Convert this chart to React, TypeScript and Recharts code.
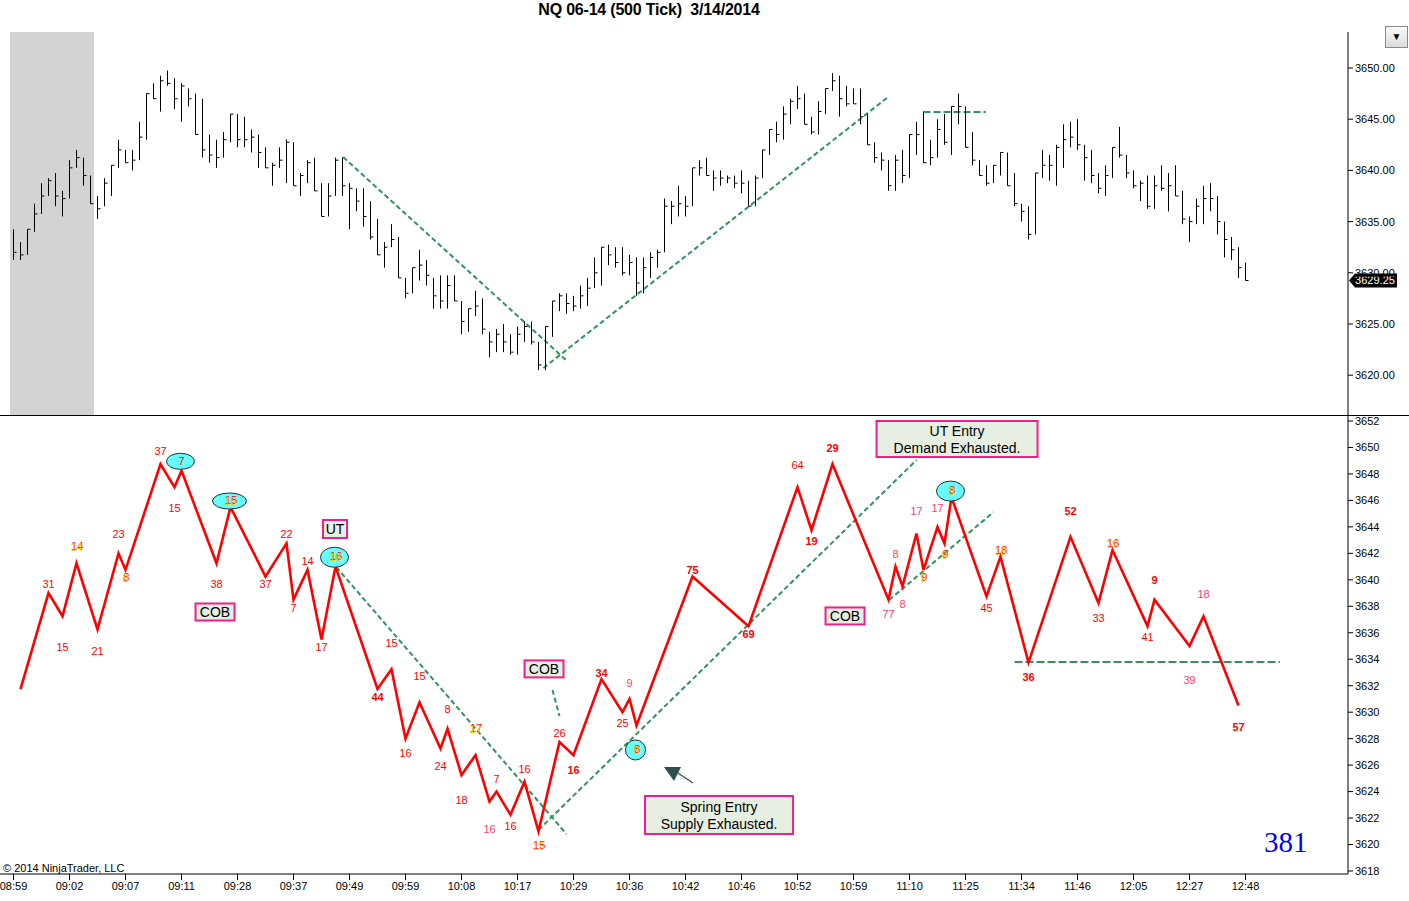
import React from "react";
import {
  ComposedChart,
  Scatter,
  ErrorBar,
  Line,
  XAxis,
  YAxis,
  ReferenceLine,
  ReferenceArea,
  ReferenceDot,
} from "recharts";

// ---------- data ----------
const highs = [
  3634.25, 3633.0, 3634.25, 3636.75, 3638.75, 3639.25, 3639.75, 3638.0, 3641.0, 3642.0,
  3641.25, 3639.5, 3637.5, 3639.25, 3640.5, 3643.0, 3642.0, 3642.0, 3644.75, 3647.5,
  3648.5, 3649.25, 3649.75, 3649.0, 3648.5, 3648.0, 3647.5, 3647.0, 3643.5, 3643.0,
  3643.75, 3645.5, 3645.5, 3645.25, 3644.0, 3643.5, 3642.25, 3640.75, 3642.25, 3643.0,
  3642.75, 3639.75, 3641.0, 3641.25, 3638.75, 3638.75, 3641.25, 3641.25, 3638.75, 3638.25,
  3638.25, 3637.0, 3635.25, 3633.0, 3634.75, 3633.5, 3629.5, 3630.5, 3632.25, 3631.25,
  3629.5, 3629.75, 3629.75, 3629.75, 3627.25, 3626.5, 3628.25, 3627.5, 3624.25, 3624.5,
  3625.0, 3624.0, 3624.75, 3625.25, 3625.25, 3623.25, 3624.75, 3627.25, 3628.0, 3628.0,
  3627.75, 3628.75, 3629.5, 3631.5, 3632.5, 3632.75, 3632.5, 3632.5, 3631.75, 3631.5,
  3631.5, 3632.0, 3632.25, 3637.25, 3637.0, 3638.5, 3637.5, 3640.25, 3641.0, 3641.25,
  3640.0, 3640.0, 3639.5, 3639.5, 3640.0, 3639.0, 3639.5, 3642.0, 3644.0, 3644.75,
  3646.25, 3647.0, 3648.25, 3647.5, 3645.25, 3646.75, 3648.0, 3649.5, 3649.25, 3648.25,
  3648.0, 3648.0, 3645.5, 3642.75, 3641.75, 3641.0, 3641.5, 3642.0, 3643.5, 3644.75,
  3645.75, 3643.0, 3645.0, 3645.5, 3646.25, 3647.5, 3646.25, 3643.75, 3641.0, 3640.5,
  3640.5, 3641.75, 3641.75, 3639.75, 3636.75, 3636.5, 3639.75, 3642.0, 3641.5, 3642.5,
  3644.5, 3644.75, 3645.0, 3642.5, 3642.0, 3639.75, 3640.5, 3642.25, 3644.25, 3641.5,
  3640.0, 3639.0, 3639.5, 3639.5, 3640.5, 3639.75, 3640.5, 3638.0, 3635.5, 3637.25,
  3638.5, 3638.75, 3637.5, 3635.0, 3633.5, 3632.5, 3631.0,
];
const lows = [
  3631.25, 3631.25, 3631.75, 3634.0, 3635.75, 3637.5, 3636.5, 3635.5, 3637.25, 3640.25,
  3638.5, 3636.75, 3635.25, 3636.5, 3637.5, 3640.25, 3640.75, 3640.0, 3641.0, 3643.0,
  3647.0, 3645.75, 3648.25, 3646.0, 3644.75, 3646.25, 3643.5, 3641.25, 3640.75, 3640.25,
  3641.25, 3642.75, 3642.25, 3642.25, 3641.75, 3640.25, 3640.25, 3638.5, 3640.25, 3638.75,
  3638.5, 3637.5, 3638.75, 3638.0, 3635.5, 3635.5, 3637.5, 3637.5, 3634.25, 3636.0,
  3634.5, 3633.25, 3631.75, 3630.5, 3632.5, 3629.5, 3627.5, 3628.0, 3629.25, 3628.75,
  3626.5, 3626.5, 3626.5, 3627.25, 3624.0, 3624.25, 3625.75, 3624.0, 3621.75, 3622.25,
  3622.25, 3622.0, 3622.0, 3623.25, 3623.0, 3620.5, 3620.5, 3623.75, 3626.25, 3626.0,
  3626.25, 3626.5, 3626.75, 3628.5, 3628.75, 3630.75, 3630.5, 3629.75, 3629.75, 3627.75,
  3628.0, 3629.5, 3630.5, 3632.0, 3634.75, 3635.5, 3635.5, 3636.5, 3639.5, 3639.5,
  3638.0, 3638.5, 3638.75, 3638.25, 3637.75, 3636.5, 3636.5, 3639.25, 3641.5, 3642.75,
  3643.0, 3644.5, 3646.0, 3644.5, 3643.5, 3643.5, 3645.5, 3647.75, 3645.25, 3646.25,
  3646.5, 3644.5, 3642.5, 3640.75, 3640.0, 3638.0, 3638.0, 3638.75, 3639.25, 3641.5,
  3640.75, 3640.5, 3641.25, 3642.5, 3641.5, 3644.5, 3642.25, 3640.5, 3639.5, 3638.5,
  3638.75, 3639.5, 3638.5, 3636.5, 3635.0, 3633.25, 3633.75, 3639.25, 3639.0, 3638.5,
  3640.25, 3642.25, 3642.0, 3639.0, 3638.75, 3637.75, 3637.5, 3639.25, 3641.25, 3639.25,
  3638.25, 3637.0, 3636.25, 3636.25, 3638.0, 3636.0, 3637.5, 3634.75, 3633.0, 3634.75,
  3634.75, 3636.0, 3633.75, 3631.5, 3631.25, 3629.5, 3629.25,
];
const closes = [
  3632.0, 3631.75, 3634.25, 3635.75, 3637.5, 3639.0, 3637.5, 3637.25, 3640.25, 3641.25,
  3639.5, 3636.75, 3636.25, 3638.75, 3640.5, 3642.0, 3640.75, 3641.0, 3643.25, 3647.5,
  3647.0, 3648.75, 3648.5, 3647.0, 3648.25, 3647.0, 3643.5, 3642.0, 3641.5, 3641.25,
  3643.0, 3645.5, 3643.0, 3643.0, 3643.25, 3641.75, 3640.25, 3640.5, 3641.0, 3642.75,
  3638.5, 3639.5, 3640.75, 3638.0, 3635.5, 3637.5, 3641.0, 3638.5, 3638.25, 3637.0,
  3635.5, 3633.5, 3631.75, 3632.5, 3633.25, 3629.5, 3628.0, 3630.5, 3630.75, 3629.75,
  3627.75, 3627.25, 3628.75, 3627.25, 3625.25, 3626.5, 3626.75, 3624.5, 3623.25, 3624.0,
  3623.25, 3622.25, 3624.0, 3624.75, 3623.25, 3621.0, 3624.75, 3627.25, 3627.75, 3627.0,
  3626.75, 3627.75, 3628.5, 3630.0, 3632.5, 3631.75, 3631.0, 3630.0, 3631.0, 3629.0,
  3630.5, 3631.5, 3632.0, 3636.5, 3636.5, 3636.75, 3636.5, 3640.25, 3640.25, 3639.5,
  3639.25, 3639.25, 3639.25, 3638.75, 3638.75, 3636.5, 3639.25, 3642.0, 3644.0, 3643.5,
  3645.5, 3646.75, 3647.0, 3644.5, 3643.75, 3645.75, 3648.0, 3648.75, 3647.0, 3646.5,
  3646.5, 3645.25, 3642.5, 3641.25, 3641.0, 3638.5, 3641.0, 3639.5, 3643.5, 3643.5,
  3640.75, 3641.25, 3644.0, 3642.75, 3646.25, 3646.25, 3642.25, 3641.0, 3639.5, 3638.75,
  3640.5, 3641.75, 3638.5, 3636.75, 3636.0, 3633.75, 3639.75, 3640.5, 3640.5, 3642.25,
  3643.0, 3643.25, 3642.5, 3641.25, 3639.5, 3638.25, 3639.5, 3642.25, 3641.5, 3639.75,
  3638.5, 3638.75, 3636.5, 3638.5, 3638.25, 3638.5, 3637.5, 3635.25, 3635.0, 3636.5,
  3637.25, 3637.25, 3635.0, 3633.25, 3632.25, 3630.5, 3629.25,
];
const timeLabels = [
  "08:59", "09:02", "09:07", "09:11", "09:28", "09:37", "09:49", "09:59", "10:08", "10:17",
  "10:29", "10:36", "10:42", "10:46", "10:52", "10:59", "11:10", "11:25", "11:34", "11:46",
  "12:05", "12:27", "12:48",
];
const pivotBars = [
  1, 5, 7, 9, 12, 15, 16, 21, 23, 24, 29, 31, 36, 39, 40, 42, 44, 46, 52, 54, 56, 58, 61, 62,
  64, 66, 68, 69, 71, 73, 75, 78, 80, 84, 87, 88, 89, 97, 105, 112, 114, 117, 125, 126, 127,
  129, 130, 132, 133, 134, 139, 141, 145, 151, 155, 157, 162, 163, 168, 170, 175,
];
const waveVolumes = [
  31, 15, 14, 21, 23, 8, 37, 15, 7, 38, 15, 37, 22, 7, 14, 17, 16, 44, 15, 16,
  15, 24, 8, 18, 17, 16, 7, 16, 16, 15, 26, 16, 34, 25, 9, 8, 75, 69, 64, 19,
  29, 77, 8, 8, 17, 9, 17, 9, 8, 45, 18, 36, 52, 33, 16, 41, 9, 39, 18, 57,
];
// N normal red, B bold red, Y yellow over red, P pink
const labelStyles = "NNYNNYNNNNYNNNNNYBNNNNNNYPNNNYNBBNPYBBNBBPPPPYPYYNYBBNYNBPPB";
const topPriceTicks = [3620, 3625, 3630, 3635, 3640, 3645, 3650];
const bottomPriceTicks = [
  3618, 3620, 3622, 3624, 3626, 3628, 3630, 3632, 3634, 3636, 3638, 3640, 3642, 3644, 3646,
  3648, 3650, 3652,
];
const lastPrice = 3629.25;
const sessionShade = [-0.5, 11.5];
const topTrendLines = [
  [[47.1, 3641.3], [78.9, 3621.5]],
  [[75.7, 3620.7], [125.0, 3647.2]],
  [[130.0, 3645.7], [138.9, 3645.7]],
];
const bottomTrendLines = [
  [[46.1, 3640.97], [79.0, 3620.79]],
  [[75.0, 3621.1], [129.0, 3649.05]],
  [[125.1, 3638.48], [140.0, 3645.12]],
  [[143.0, 3633.79], [180.9, 3633.79]],
  [[77.0, 3631.68], [78.0, 3629.71]],
];
const notes = [
  { lines: ["UT"], i: 45.93, p: 3643.84 },
  { lines: ["COB"], i: 28.79, p: 3637.57 },
  { lines: ["COB"], i: 75.79, p: 3633.27 },
  { lines: ["COB"], i: 118.79, p: 3637.27 },
  { lines: ["UT Entry", "Demand Exhausted."], i: 134.79, p: 3650.64 },
  { lines: ["Spring Entry", "Supply Exhausted."], i: 100.79, p: 3622.23 },
];
const arrowAt = { i: 94.21, p: 3625.4 };

// ---------- layout / styles ----------
const W = 1409;
const PLOT_W = 1348;
const X0 = 13.5;
const STEP = 7;
const xDomain: [number, number] = [-X0 / STEP, (PLOT_W - X0) / STEP];
const topDomain: [number, number] = [3616.113, 3653.516];
const bottomDomain: [number, number] = [3617.773, 3652.378];
const FONT = "'Liberation Sans', Arial, sans-serif";
const GREEN = "#33935e";

const noteSizes: Record<string, [number, number]> = {
  UT: [24, 18],
  COB: [39, 17],
  "UT Entry": [161, 36],
  "Spring Entry": [148, 38],
};
const ovals: Record<number, [number, number]> = {
  9: [14, 8],
  11: [17, 8],
  17: [14, 10],
  36: [10, 10],
  49: [14, 10],
};
const labelLook: Record<string, any> = {
  N: { fill: "#ff0000" },
  B: { fill: "#ff0000", fontWeight: "bold" },
  P: { fill: "#ff3d6e" },
};

const bars = closes.map((c, i) => ({ i, c, err: [c - lows[i], highs[i] - c] }));
const zigzag = pivotBars.map((b) => ({ i: b, zz: closes[b] }));
const waveLabels = pivotBars.slice(1).map((b, k) => {
  const hi = k % 2 === 0;
  return { i: b, y: hi ? highs[b] : lows[b], v: waveVolumes[k], hi, sty: labelStyles[k], n: k + 1 };
});
const xTicks = timeLabels.map((_, k) => k * 8);

const CloseTick = (p: any) => {
  const { cx, cy } = p;
  if (cx == null || cy == null) return null;
  return <line x1={cx} x2={cx + 3} y1={cy} y2={cy} stroke="#000" strokeWidth={1} />;
};

const WaveLabel = (p: any) => {
  const { cx, cy, payload } = p;
  if (cx == null || cy == null || !payload) return null;
  const ty = payload.hi ? cy - 6 : cy + 8;
  const ov = ovals[payload.n];
  const common = { textAnchor: "middle" as const, fontSize: 11, fontFamily: FONT, dy: "0.36em" };
  return (
    <g>
      {ov && (
        <ellipse cx={cx - 1} cy={ty} rx={ov[0]} ry={ov[1]} fill="#66ffff" stroke="#203030" strokeWidth={1} />
      )}
      {payload.sty === "Y" ? (
        <>
          <text x={cx + 0.7} y={ty - 1} fill="#ff0000" {...common}>
            {payload.v}
          </text>
          <text x={cx} y={ty} fill="#ffc800" {...common}>
            {payload.v}
          </text>
        </>
      ) : (
        <text x={cx} y={ty} {...common} {...labelLook[payload.sty]}>
          {payload.v}
        </text>
      )}
    </g>
  );
};

const NoteBox = ({ cx, cy, lines }: any) => {
  const [w, h] = noteSizes[lines[0]];
  return (
    <g>
      <rect x={cx - w / 2} y={cy - h / 2} width={w} height={h} fill="#e6efe2" stroke="#f0208a" strokeWidth={2} />
      {lines.map((t: string, k: number) => (
        <text
          key={k}
          x={cx}
          y={cy + (k - (lines.length - 1) / 2) * 17}
          dy="0.36em"
          textAnchor="middle"
          fontSize={14}
          fontFamily={FONT}
          fill="#000"
        >
          {t}
        </text>
      ))}
    </g>
  );
};

const Arrow = ({ cx, cy }: any) => (
  <g>
    <line x1={cx + 2} y1={cy - 2} x2={cx + 20} y2={cy + 10} stroke="#2f4f4f" strokeWidth={1.2} />
    <polygon points={`${cx - 9},${cy - 6} ${cx + 8},${cy - 6} ${cx + 1},${cy + 8}`} fill="#2f4f4f" />
  </g>
);

const PriceTag = ({ cx, cy }: any) => (
  <g>
    <polygon
      points={`${cx + 1},${cy} ${cx + 7},${cy - 7} ${cx + 49},${cy - 7} ${cx + 49},${cy + 7} ${cx + 7},${cy + 7}`}
      fill="#000"
    />
    <text x={cx + 27} y={cy} dy="0.36em" textAnchor="middle" fontSize={11} fontFamily={FONT} fill="#fff">
      {lastPrice.toFixed(2)}
    </text>
  </g>
);

const tickStyle = { fontSize: 11, fill: "#000", fontFamily: FONT };

export default function App() {
  return (
    <div
      style={{
        position: "absolute",
        left: 0,
        top: 0,
        width: W,
        height: 901,
        background: "#fff",
        fontFamily: FONT,
        overflow: "hidden",
      }}
    >
      <div
        style={{
          position: "absolute",
          left: 449,
          top: 1,
          width: 400,
          textAlign: "center",
          fontWeight: "bold",
          fontSize: 16,
          letterSpacing: -0.2,
          whiteSpace: "pre",
          lineHeight: "18px",
        }}
      >
        {"NQ 06-14 (500 Tick)  3/14/2014"}
      </div>
      <div
        style={{
          position: "absolute",
          left: 1385,
          top: 26,
          width: 21,
          height: 20,
          border: "1px solid #888",
          background: "linear-gradient(#fafafa,#dcdcdc)",
          fontSize: 10,
          textAlign: "center",
          lineHeight: "20px",
        }}
      >
        ▼
      </div>

      <div style={{ position: "absolute", left: 0, top: 0 }}>
        <ComposedChart width={W} height={415} data={bars} margin={{ top: 32, right: 0, bottom: 0, left: 0 }}>
          <XAxis dataKey="i" type="number" domain={xDomain} allowDataOverflow hide />
          <YAxis
            orientation="right"
            width={61}
            type="number"
            domain={topDomain}
            allowDataOverflow
            ticks={topPriceTicks}
            interval={0}
            tickFormatter={(v: number) => v.toFixed(2)}
            tick={tickStyle}
            tickSize={5}
            axisLine={{ stroke: "#000" }}
            tickLine={{ stroke: "#000" }}
          />
          <ReferenceArea
            x1={sessionShade[0]}
            x2={sessionShade[1]}
            fill="#d3d3d3"
            fillOpacity={1}
            stroke="none"
            ifOverflow="hidden"
          />
          {topTrendLines.map((s, k) => (
            <ReferenceLine
              key={k}
              segment={[
                { x: s[0][0], y: s[0][1] },
                { x: s[1][0], y: s[1][1] },
              ]}
              stroke={GREEN}
              strokeWidth={2}
              strokeDasharray={s[0][1] === s[1][1] ? "7 3" : "5 3"}
              ifOverflow="visible"
            />
          ))}
          <Scatter dataKey="c" shape={CloseTick} isAnimationActive={false}>
            <ErrorBar dataKey="err" direction="y" width={0} stroke="#000" strokeWidth={1} isAnimationActive={false} />
          </Scatter>
          <ReferenceDot x={xDomain[1]} y={lastPrice} r={0} ifOverflow="visible" shape={PriceTag} />
        </ComposedChart>
      </div>

      <div style={{ position: "absolute", left: 0, top: 415, width: W, borderTop: "1px solid #000" }} />

      <div style={{ position: "absolute", left: 0, top: 415 }}>
        <ComposedChart width={W} height={486} data={bars} margin={{ top: 1, right: 0, bottom: 0, left: 0 }}>
          <XAxis
            dataKey="i"
            type="number"
            domain={xDomain}
            allowDataOverflow
            ticks={xTicks}
            interval={0}
            tickFormatter={(v: number) => timeLabels[Math.round(v / 8)] ?? ""}
            tick={tickStyle}
            tickSize={6}
            height={27}
            axisLine={{ stroke: "#000" }}
            tickLine={{ stroke: "#000" }}
          />
          <YAxis
            orientation="right"
            width={61}
            type="number"
            domain={bottomDomain}
            allowDataOverflow
            ticks={bottomPriceTicks}
            interval={0}
            tick={tickStyle}
            tickSize={5}
            axisLine={{ stroke: "#000" }}
            tickLine={{ stroke: "#000" }}
          />
          {bottomTrendLines.map((s, k) => (
            <ReferenceLine
              key={k}
              segment={[
                { x: s[0][0], y: s[0][1] },
                { x: s[1][0], y: s[1][1] },
              ]}
              stroke={GREEN}
              strokeWidth={2}
              strokeDasharray={s[0][1] === s[1][1] ? "8 3" : "5 3"}
              ifOverflow="visible"
            />
          ))}
          <Line
            data={zigzag}
            dataKey="zz"
            type="linear"
            stroke="#ff0000"
            strokeWidth={2.6}
            dot={false}
            isAnimationActive={false}
          />
          <Scatter data={waveLabels} dataKey="y" shape={WaveLabel} isAnimationActive={false} />
          {notes.map((n, k) => (
            <ReferenceDot
              key={k}
              x={n.i}
              y={n.p}
              r={0}
              ifOverflow="visible"
              shape={(p: any) => <NoteBox cx={p.cx} cy={p.cy} lines={n.lines} />}
            />
          ))}
          <ReferenceDot x={arrowAt.i} y={arrowAt.p} r={0} ifOverflow="visible" shape={Arrow} />
        </ComposedChart>
      </div>

      <div style={{ position: "absolute", left: 3, top: 861, fontSize: 11, lineHeight: "14px" }}>
        © 2014 NinjaTrader, LLC
      </div>
      <div
        style={{
          position: "absolute",
          left: 1264,
          top: 824,
          fontSize: 29,
          color: "#0000ff",
          fontFamily: "'Liberation Serif', 'Times New Roman', serif",
          lineHeight: "36px",
        }}
      >
        381
      </div>
    </div>
  );
}
